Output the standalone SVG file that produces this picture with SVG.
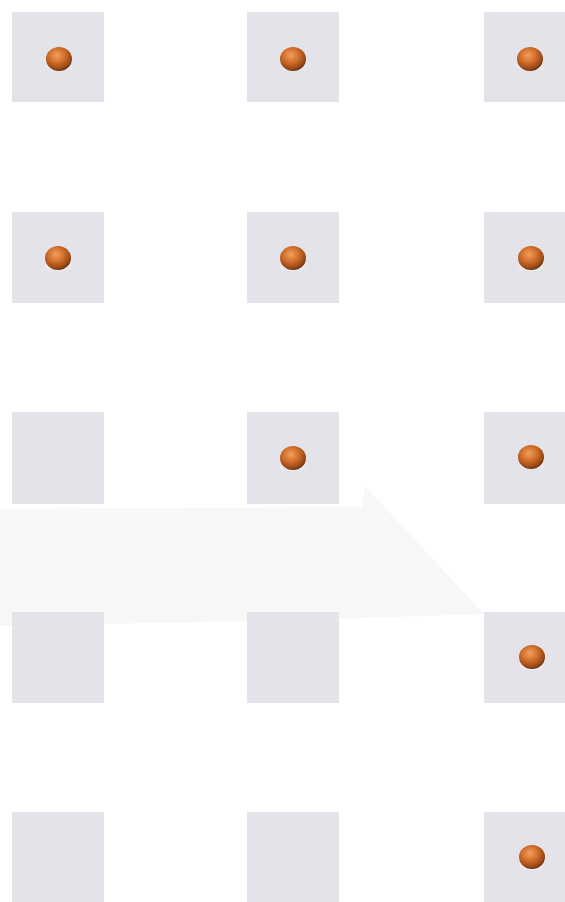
<svg xmlns="http://www.w3.org/2000/svg" width="565" height="902" viewBox="0 0 565 902">
<defs>
<style>
.cell{fill:#e3e3e9}
.ball{fill:url(#bg)}
</style>
<radialGradient id="bg" cx="0.42" cy="0.35" r="0.65">
<stop offset="0" stop-color="#f0a060"/>
<stop offset="0.45" stop-color="#d5702c"/>
<stop offset="0.85" stop-color="#9a4a18"/>
<stop offset="1" stop-color="#6e3210"/>
</radialGradient>
<radialGradient id="sh" cx="0.5" cy="0.5" r="0.5">
<stop offset="0" stop-color="#ffffff" stop-opacity="0.8"/>
<stop offset="1" stop-color="#ffffff" stop-opacity="0"/>
</radialGradient>
</defs>
<rect width="565" height="902" fill="#ffffff"/>
<g id="arrow">
<polygon points="0,509 362,507 365,486 484,614 300,620 0,626" fill="#f7f7f7"/>
</g>
<g id="grid">
<g id="r1c1"><rect class="cell" x="12" y="12" width="92" height="90"/><ellipse cx="59" cy="66" rx="16" ry="6" fill="url(#sh)"/><ellipse class="ball" cx="59" cy="59" rx="13" ry="12"/></g>
<g id="r1c2"><rect class="cell" x="247" y="12" width="92" height="90"/><ellipse cx="293" cy="66" rx="16" ry="6" fill="url(#sh)"/><ellipse class="ball" cx="293" cy="59" rx="13" ry="12"/></g>
<g id="r1c3"><rect class="cell" x="484" y="12" width="84" height="90"/><ellipse cx="530" cy="66" rx="16" ry="6" fill="url(#sh)"/><ellipse class="ball" cx="530" cy="59" rx="13" ry="12"/></g>
<g id="r2c1"><rect class="cell" x="12" y="212" width="92" height="91"/><ellipse cx="58" cy="266" rx="16" ry="6" fill="url(#sh)"/><ellipse class="ball" cx="58" cy="258" rx="13" ry="12"/></g>
<g id="r2c2"><rect class="cell" x="247" y="212" width="92" height="91"/><ellipse cx="293" cy="266" rx="16" ry="6" fill="url(#sh)"/><ellipse class="ball" cx="293" cy="258" rx="13" ry="12"/></g>
<g id="r2c3"><rect class="cell" x="484" y="212" width="84" height="91"/><ellipse cx="531" cy="266" rx="16" ry="6" fill="url(#sh)"/><ellipse class="ball" cx="531" cy="258" rx="13" ry="12"/></g>
<g id="r3c1"><rect class="cell" x="12" y="412" width="92" height="92"/></g>
<g id="r3c2"><rect class="cell" x="247" y="412" width="92" height="92"/><ellipse cx="293" cy="466" rx="16" ry="6" fill="url(#sh)"/><ellipse class="ball" cx="293" cy="458" rx="13" ry="12"/></g>
<g id="r3c3"><rect class="cell" x="484" y="412" width="84" height="92"/><ellipse cx="531" cy="464" rx="16" ry="6" fill="url(#sh)"/><ellipse class="ball" cx="531" cy="457" rx="13" ry="12"/></g>
<g id="r4c1"><rect class="cell" x="12" y="612" width="92" height="91"/></g>
<g id="r4c2"><rect class="cell" x="247" y="612" width="92" height="91"/></g>
<g id="r4c3"><rect class="cell" x="484" y="612" width="84" height="91"/><ellipse cx="532" cy="665" rx="16" ry="6" fill="url(#sh)"/><ellipse class="ball" cx="532" cy="657" rx="13" ry="12"/></g>
<g id="r5c1"><rect class="cell" x="12" y="812" width="92" height="93"/></g>
<g id="r5c2"><rect class="cell" x="247" y="812" width="92" height="93"/></g>
<g id="r5c3"><rect class="cell" x="484" y="812" width="84" height="93"/><ellipse cx="532" cy="865" rx="16" ry="6" fill="url(#sh)"/><ellipse class="ball" cx="532" cy="857" rx="13" ry="12"/></g>
</g>
</svg>
